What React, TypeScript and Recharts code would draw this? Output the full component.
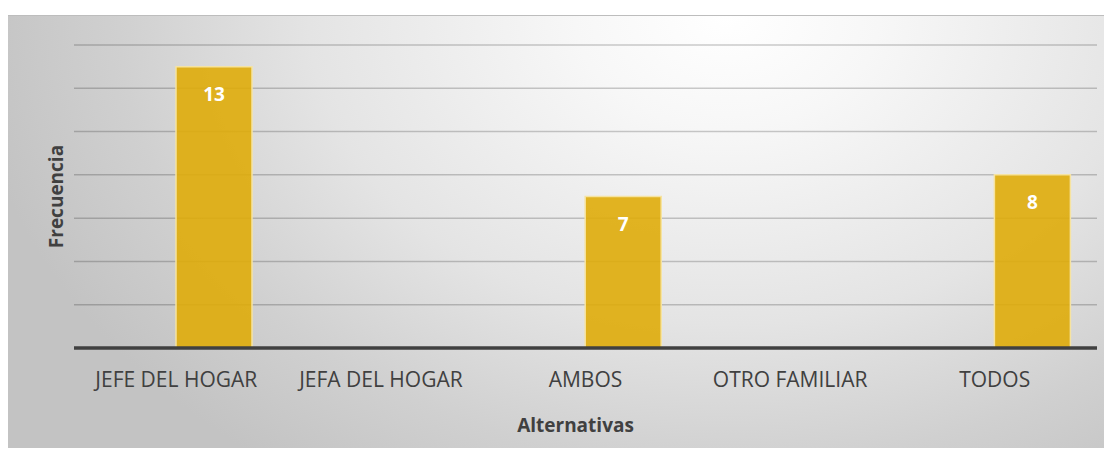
import React from 'react';
import {
  BarChart,
  Bar,
  XAxis,
  YAxis,
  CartesianGrid,
  LabelList,
  Label,
} from 'recharts';

// Excel-style column chart: one empty series sits to the left of the real one,
// which is why every visible bar is shifted right of its category label.

const categories = ['JEFE DEL HOGAR', 'JEFA DEL HOGAR', 'AMBOS', 'OTRO FAMILIAR', 'TODOS'];
const frecuencia: (number | null)[] = [13, null, 7, null, 8];
const serieVacia: (number | null)[] = [null, null, null, null, null];
const yTicks = [0, 2, 4, 6, 8, 10, 12, 14];

const data = categories.map((name, i) => ({
  name,
  vacia: serieVacia[i],
  frecuencia: frecuencia[i],
}));

const FONT = '"Open Sans", sans-serif';
const TEXT = '#404040';

// the value axis has no visible labels, only its gridlines
const NoTick = () => <g />;

const YTitle = ({ viewBox }: any) => {
  const x = viewBox.x + viewBox.width - 18;
  const y = viewBox.y + viewBox.height / 2;
  return (
    <text
      x={x}
      y={y}
      transform={`rotate(-90 ${x} ${y})`}
      textAnchor="middle"
      dominantBaseline="central"
      fontFamily={FONT}
      fontSize={19}
      fontWeight={700}
      fill={TEXT}
    >
      Frecuencia
    </text>
  );
};

const XTitle = ({ viewBox }: any) => (
  <text
    x={viewBox.x + viewBox.width / 2 - 10}
    y={viewBox.y + 84}
    textAnchor="middle"
    fontFamily={FONT}
    fontSize={19}
    fontWeight={700}
    fill={TEXT}
  >
    Alternativas
  </text>
);

export default function App() {
  return (
    <div style={{ position: 'relative', width: 1112, height: 456, margin: -8 }}>
      <div
        style={{
          position: 'absolute',
          left: 7,
          top: 15,
          right: 0,
          bottom: 0,
          borderTop: '1px solid #bdbdbd',
          background:
            'radial-gradient(ellipse 760px 560px at 720px 0px, #ffffff 0%, #f7f7f7 20%, #e4e4e4 55%, #d0d0d0 80%, #c3c3c3 100%)',
        }}
      />
      <div style={{ position: 'absolute', left: 0, top: 0 }}>
        <BarChart
          width={1112}
          height={456}
          data={data}
          margin={{ top: 45, right: 15, left: 0, bottom: 0 }}
          barCategoryGap={26}
          barGap={0}
        >
          <CartesianGrid vertical={false} stroke="#000000" strokeOpacity={0.2} strokeWidth={1.5} />
          <YAxis
            width={74}
            domain={[0, 14]}
            ticks={yTicks}
            tick={<NoTick />}
            axisLine={false}
            tickLine={false}
          >
            <Label content={<YTitle />} />
          </YAxis>
          <XAxis
            dataKey="name"
            height={108}
            interval={0}
            tickLine={false}
            tickMargin={18}
            axisLine={{ stroke: '#404040', strokeWidth: 3.5 }}
            tick={{ fill: TEXT, fontSize: 21, fontFamily: FONT }}
          >
            <Label content={<XTitle />} />
          </XAxis>
          <Bar dataKey="vacia" fill="#4472c4" isAnimationActive={false} />
          <Bar
            dataKey="frecuencia"
            fill="#dfac0a"
            fillOpacity={0.9}
            stroke="#f6e3a0"
            strokeWidth={1.5}
            isAnimationActive={false}
          >
            <LabelList
              dataKey="frecuencia"
              position="insideTop"
              offset={21}
              fill="#ffffff"
              fontSize={19}
              fontWeight={700}
              fontFamily={FONT}
              formatter={(v: any) => (v ? v : '')}
            />
          </Bar>
        </BarChart>
      </div>
    </div>
  );
}
